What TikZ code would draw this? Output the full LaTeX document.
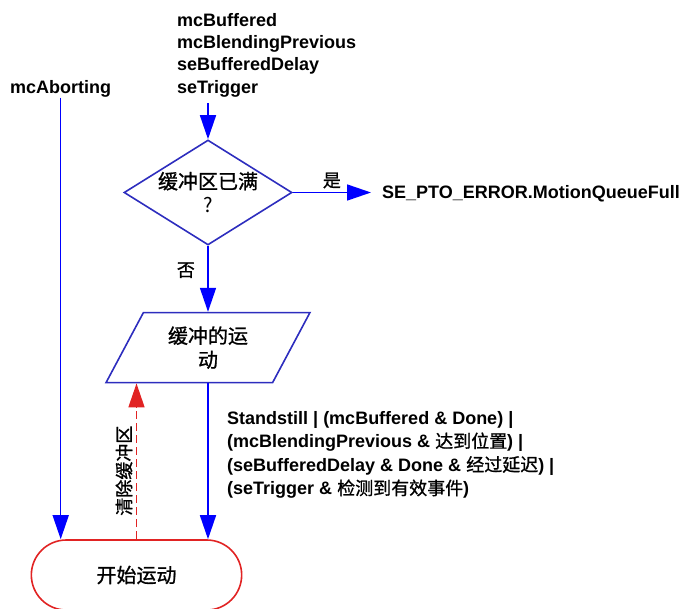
\documentclass[tikz,border=0pt]{standalone}
\usepackage{fontspec}
\setmainfont{Liberation Sans}
\newfontfamily\cjk{Noto Sans CJK SC}[BoldFont={Noto Sans CJK SC}, BoldFeatures={FakeBold=1}]
\usetikzlibrary{arrows.meta,positioning,shapes.geometric,shapes.misc}
\definecolor{flowblue}{RGB}{0,0,255}
\definecolor{boxblue}{RGB}{45,45,190}
\definecolor{endred}{RGB}{225,35,35}

\begin{document}
\begin{tikzpicture}[
    x=1pt, y=-1pt,
    node distance=66pt,
    decision/.style={draw=boxblue, diamond, aspect=1.6, minimum width=168pt, minimum height=105pt, inner sep=0pt, line width=1.6pt},
    iobox/.style={draw=boxblue, trapezium, trapezium left angle=63, trapezium right angle=117, trapezium stretches=true, minimum width=204pt, minimum height=70pt, line width=1.6pt},
    terminal/.style={draw=endred, rounded rectangle, minimum width=217pt, minimum height=70pt, line width=1.6pt},
    cntext/.style={font=\bfseries\cjk\fontsize{20}{24}\selectfont, align=center},
    cnlabel/.style={font=\bfseries\cjk\fontsize{18}{22}\selectfont},
    signal/.style={font=\bfseries\fontsize{18}{22.3}\selectfont, align=left, inner sep=0pt},
    arrow/.style={-{Triangle[length=24pt, width=16pt]}, draw=flowblue, line width=1.6pt},
    clear/.style={-{Triangle[length=24pt, width=16pt]}, draw=endred, line width=1.6pt, dash pattern=on 8pt off 4pt}
]
\useasboundingbox (0,0) rectangle (688,608);

\node[decision, cntext] (full) at (208,192.5) {\raisebox{-4pt}{缓冲区已满}\\\raisebox{-4pt}{\mdseries ?}};
\node[iobox, cntext, below=66pt of full] (buffer) {缓冲的运\\动};
\node[terminal, cntext] (start) at (136.5,575) {开始运动};

\node[signal, anchor=north west] (inputs) at (177,13) {mcBuffered\\mcBlendingPrevious\\seBufferedDelay\\seTrigger};
\node[signal, anchor=west] (abort) at (10,89) {mcAborting};
\node[signal, anchor=west] (error) at (382,194) {SE\_PTO\_ERROR.MotionQueueFull};
\node[signal, anchor=north west, font=\bfseries\fontsize{18}{23.5}\selectfont] (cond) at (227,411) {Standstill | (mcBuffered \& Done) |\\(mcBlendingPrevious \& {\cjk 达到位置}) |\\(seBufferedDelay \& Done \& {\cjk 经过延迟}) |\\(seTrigger \& {\cjk 检测到有效事件})};

\draw[arrow] ([yshift=-6pt]inputs.south -| full.north) -- (full.north);
\draw[arrow] (full.east) -- node[above, cnlabel] {是} ([xshift=-11pt]error.west |- full.east);
\draw[arrow] (full.south) -- node[left=9pt, pos=0.37, cnlabel] {否} (buffer.north);
\draw[arrow] (buffer.south) -- (buffer.south |- start.north);
\draw[arrow] (abort.south) -- (abort.south |- start.north);
\draw[clear] (start.north) -- node[sloped, above, pos=0.44, cnlabel] {清除缓冲区} (start.north |- buffer.south);
\end{tikzpicture}
\end{document}
